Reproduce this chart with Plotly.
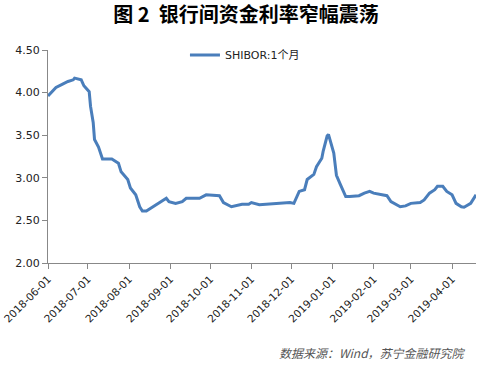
import plotly.graph_objects as go

dates = ["2018-06-01","2018-06-05","2018-06-07","2018-06-12","2018-06-16","2018-06-20","2018-06-21",
         "2018-06-26","2018-06-28","2018-07-02","2018-07-03","2018-07-05","2018-07-06","2018-07-09",
         "2018-07-11","2018-07-12","2018-07-19","2018-07-24","2018-07-26","2018-07-31","2018-08-02",
         "2018-08-06","2018-08-09","2018-08-11","2018-08-14","2018-08-20","2018-08-26","2018-08-29",
         "2018-08-31","2018-09-05","2018-09-10","2018-09-13","2018-09-23","2018-09-28","2018-10-08",
         "2018-10-11","2018-10-17","2018-10-22","2018-10-25","2018-10-30","2018-11-01","2018-11-07",
         "2018-11-12","2018-11-20","2018-11-30","2018-12-03","2018-12-04","2018-12-07","2018-12-11",
         "2018-12-13","2018-12-18","2018-12-20","2018-12-24","2018-12-25","2018-12-28","2018-12-29",
         "2019-01-02","2019-01-04","2019-01-07","2019-01-11","2019-01-14","2019-01-21","2019-01-25",
         "2019-01-29","2019-02-01","2019-02-11","2019-02-14","2019-02-18","2019-02-21","2019-02-25",
         "2019-03-01","2019-03-08","2019-03-11","2019-03-15","2019-03-19","2019-03-21","2019-03-25",
         "2019-03-28","2019-04-01","2019-04-04","2019-04-08","2019-04-10","2019-04-15","2019-04-19"]
shibor_1m = [3.96,4.03,4.06,4.10,4.13,4.15,4.17,
             4.15,4.08,4.01,3.84,3.65,3.45,3.36,
             3.25,3.22,3.22,3.17,3.07,2.98,2.88,
             2.80,2.66,2.61,2.61,2.67,2.74,2.76,
             2.72,2.70,2.72,2.76,2.76,2.80,2.79,
             2.71,2.66,2.675,2.69,2.69,2.71,2.685,
             2.69,2.70,2.71,2.70,2.74,2.84,2.86,
             2.98,3.04,3.13,3.23,3.31,3.49,3.51,
             3.29,3.03,2.92,2.78,2.78,2.79,2.82,
             2.84,2.82,2.79,2.72,2.69,2.66,2.67,
             2.70,2.71,2.74,2.82,2.86,2.90,2.90,
             2.84,2.80,2.70,2.66,2.655,2.70,2.80]

tick_dates = ["2018-06-01","2018-07-01","2018-08-01","2018-09-01","2018-10-01","2018-11-01",
              "2018-12-01","2019-01-01","2019-02-01","2019-03-01","2019-04-01"]
y_ticks = [2.0, 2.5, 3.0, 3.5, 4.0, 4.5]

title_text = "图 2&nbsp;&nbsp;银行间资金利率窄幅震荡"
series_name = "SHIBOR:1个月"
source_text = "数据来源：Wind，苏宁金融研究院"

fig = go.Figure()
fig.add_trace(go.Scatter(x=dates, y=shibor_1m, mode="lines", name=series_name,
                         line=dict(color="#4A7EBB", width=3)))

fig.update_layout(
    width=492, height=365,
    paper_bgcolor="white", plot_bgcolor="white",
    margin=dict(l=48, r=16, t=50, b=102, autoexpand=False),
    font=dict(family="DejaVu Sans, Verdana, sans-serif", size=11, color="#222"),
    title=dict(text="<b>" + title_text + "</b>", x=0.5, xanchor="center",
               y=0.958, yanchor="middle", yref="container",
               font=dict(family="Noto Sans CJK SC", size=20, color="#000")),
    showlegend=True,
    legend=dict(x=0.32, y=0.977, xanchor="left", yanchor="middle", orientation="h",
                font=dict(family="DejaVu Sans, Noto Sans CJK SC", size=11, color="#222"),
                bgcolor="rgba(0,0,0,0)"),
)
fig.update_xaxes(type="date", range=["2018-06-01", "2019-04-19"], automargin=False,
                 tickvals=tick_dates, ticktext=tick_dates, tickangle=-45,
                 showline=True, linecolor="#888", linewidth=1,
                 ticks="outside", ticklen=5, tickcolor="#888",
                 showgrid=False, zeroline=False,
                 tickfont=dict(family="DejaVu Sans", size=10.5, color="#222"))
fig.update_yaxes(range=[2.0, 4.5], tickvals=y_ticks, tickformat=".2f", automargin=False,
                 showline=True, linecolor="#888", linewidth=1,
                 ticks="outside", ticklen=5, tickcolor="#888",
                 showgrid=False, zeroline=False,
                 tickfont=dict(family="DejaVu Sans", size=11, color="#222"))
fig.add_annotation(text="<i>" + source_text + "</i>", xref="paper", yref="paper",
                   x=0.981, y=-0.42, xanchor="right", yanchor="middle", showarrow=False,
                   font=dict(family="Noto Sans CJK SC", size=12, color="#555"))

fig.write_html("out.html", config={"displayModeBar": False},
               post_script="document.body.style.margin='0';document.body.style.padding='0';")
